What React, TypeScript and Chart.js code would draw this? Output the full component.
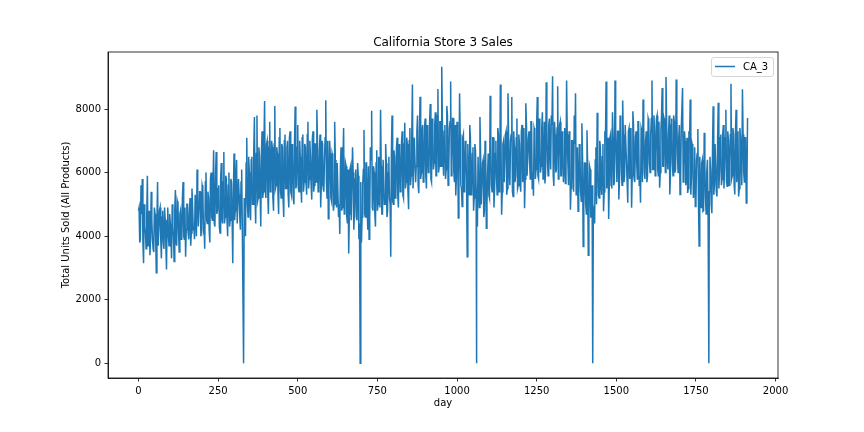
import React, { useRef, useEffect } from "react";
import { Chart, registerables } from "chart.js";

Chart.register(...registerables);

// daily units, read every 2 days: unitsPart* hold days 0, 4, 8, ...
// and midPart* hold the days in between (2, 6, 10, ...)
const STEP = 4;

// days 0 - 396
const unitsPart1 = [
  4800, 3800, 5600, 5800, 3150, 4300, 3600, 5900, 4100, 3400, 5400, 3900, 3500, 4700, 2850, 5700, 3700, 4900, 3300, 4800, 3600, 4500, 2950, 4900, 3700,
  4400, 3300, 4300, 3200, 5450, 3700, 5000, 3500, 4800, 4000, 5700, 3900, 3350, 5000, 4100, 4800, 3700, 5500, 4200, 3900, 5300, 6100, 4300, 5400, 4000,
  5600, 4200, 3600, 6000, 4400, 5200, 3800, 6000, 4500, 6700, 4300, 6650, 4800, 5600, 4100, 6300, 4400, 6650, 4600, 5800, 4000, 6000, 4500, 5700, 3150,
  6600, 4800, 6400, 4400, 5300, 4200, 6100, 4300, 5200, 4000, 7100, 4600, 6000, 4500, 6500, 5000, 7750, 4400, 7800, 5200, 6500, 4300, 7300, 5400, 8250,
];
// days 2 - 398
const midPart1 = [
  4900, 3900, 4700, 3800, 5000, 4100, 4600, 3700, 4800, 3900, 4500, 3600, 4900, 4000, 4400, 3700, 4800, 3900, 4600, 3800, 4900, 3700, 4500, 4000, 4700,
  3900, 5000, 4000, 4800, 3800, 5100, 4100, 4700, 3900, 5200, 4000, 4900, 4200, 5000, 3900, 5200, 4100, 4900, 4300, 5300, 4000, 5100, 4300, 5400, 4200,
  5500, 4300, 5700, 4500, 5400, 4200, 5800, 4600, 5600, 4400, 5900, 4700, 5500, 4300, 5800, 4600, 5700, 4400, 5900, 4500, 5600, 4300, 5800, 4600, 5400,
  4500, 5900, 4400, 5800, 4600, 5700, 4300, 0, 4900, 6300, 5000, 6500, 5200, 6400, 5000, 6700, 5300, 6600, 5100, 6800, 5400, 6600, 5200, 6900, 5500,
];

// days 400 - 796
const unitsPart2 = [
  5200, 7000, 4700, 7600, 5500, 6800, 4800, 8100, 5600, 6600, 4700, 7400, 5200, 6800, 4600, 7200, 5500, 7000, 4900, 7300, 5300, 6500, 5000, 8080, 5600,
  7500, 5400, 6500, 5050, 7200, 5700, 6800, 5300, 7600, 5800, 6500, 5150, 7300, 5600, 6900, 7980, 5400, 6700, 4900, 7000, 5500, 6400, 8280, 5200, 4550,
  7000, 5200, 6600, 4800, 7600, 5100, 6300, 4600, 4070, 6800, 4900, 7400, 5000, 6200, 4400, 3450, 6100, 4500, 6800, 4200, 5800, 4600, 6300, 3900, 0,
  3800, 5600, 7340, 4600, 6300, 4200, 3900, 6800, 7950, 4800, 6000, 4300, 6700, 5000, 6200, 7980, 4700, 6400, 5000, 6900, 4600, 6000, 5200, 3350, 7800,
];
// days 402 - 798
const midPart2 = [
  6900, 5300, 6800, 5400, 7000, 5200, 6900, 5500, 6800, 5300, 7100, 5400, 6900, 5200, 7000, 5500, 6800, 5300, 7100, 5400, 6900, 5200, 7000, 5500, 6800,
  5500, 7000, 5600, 7100, 5400, 6900, 5700, 7200, 5500, 7000, 5600, 7100, 5400, 6900, 5700, 7000, 5500, 7200, 5600, 6900, 5400, 7100, 5700, 7000, 5500,
  6600, 5100, 6500, 5000, 6400, 4900, 6300, 5000, 6200, 4800, 6400, 4700, 6300, 4600, 6100, 4700, 6200, 4500, 6000, 4700, 6100, 4500, 5900, 4400, 5700,
  4600, 6100, 4700, 6300, 4800, 6200, 4600, 6400, 4900, 6200, 4700, 6300, 4800, 6500, 4900, 6200, 4700, 6400, 5000, 6300, 4800, 6500, 5000, 6600, 5100,
];

// days 800 - 1196
const unitsPart3 = [
  5000, 6500, 5300, 7100, 4900, 6700, 5600, 7300, 5200, 7570, 5700, 6900, 4850, 7400, 5900, 8770, 5500, 7100, 6200, 7800, 5350, 8390, 6000, 7500, 5800,
  7700, 5500, 6800, 6100, 8160, 5700, 7400, 6300, 7900, 5900, 8630, 6200, 7600, 9330, 6400, 7300, 5800, 8100, 5600, 7400, 8870, 6300, 7700, 5700, 5280,
  7600, 4570, 8500, 5600, 4930, 7200, 5800, 6700, 3350, 6200, 7500, 5300, 6600, 4800, 6900, 5500, 4300, 6500, 7750, 5000, 6300, 4600, 7000, 4250, 6000,
  5300, 8420, 5600, 7100, 4900, 6600, 5800, 7400, 5400, 8770, 4670, 6900, 5700, 7200, 5300, 8500, 6000, 7000, 8380, 5250, 6800, 5900, 7700, 5600, 6900,
];
// days 802 - 1198
const midPart3 = [
  6700, 5200, 6800, 5300, 6900, 5400, 7000, 5300, 6900, 5500, 7100, 5400, 7000, 5600, 7200, 5500, 7100, 5700, 7300, 5600, 7200, 5800, 7300, 5700, 7400,
  5900, 7500, 6000, 7600, 5800, 7700, 6100, 7500, 5900, 7800, 6000, 7600, 6200, 7700, 5900, 7500, 6100, 7800, 6000, 7600, 5900, 7700, 6000, 7500, 5800,
  7300, 5600, 7200, 5500, 7100, 5400, 7000, 5600, 6900, 5300, 7100, 5400, 6800, 5200, 6700, 5000, 6500, 4900, 6600, 5000, 6400, 4800, 6500, 5000, 6600,
  5200, 6900, 5400, 7100, 5500, 7000, 5300, 7200, 5600, 7100, 5400, 7000, 5700, 7300, 5500, 7100, 5600, 7200, 5400, 7300, 5700, 7100, 5500, 7200, 5600,
];

// days 1200 - 1596
const unitsPart4 = [
  5400, 7500, 6000, 4880, 8180, 5900, 7100, 6300, 7600, 5500, 5270, 7300, 6100, 8380, 5800, 7200, 6200, 7900, 5900, 5660, 8840, 6300, 7500, 6600, 7800,
  9030, 5580, 7200, 6100, 8720, 6400, 7600, 5900, 7100, 6200, 5660, 8900, 6300, 7300, 4830, 7000, 6100, 7800, 8500, 5600, 4780, 6900, 5400, 7550, 3670,
  6300, 5000, 7330, 3400, 6200, 4600, 5600, 4900, 4400, 6800, 7880, 5300, 7000, 5600, 6500, 4780, 7300, 8870, 5900, 4540, 7100, 6200, 7900, 5600, 8900,
  6400, 7300, 5150, 7800, 6000, 8270, 5700, 7500, 6300, 5050, 7400, 6100, 4890, 7930, 5800, 7100, 6300, 7600, 5600, 5050, 7300, 8300, 6000, 7000, 5700,
];
// days 1202 - 1598
const midPart4 = [
  7300, 5700, 7400, 5800, 7500, 5900, 7300, 5800, 7600, 6000, 7400, 5800, 7500, 5900, 7700, 6000, 7400, 5800, 7600, 6000, 7500, 5900, 7700, 6100, 7500,
  5900, 7600, 6000, 7400, 5800, 7500, 5900, 7300, 5700, 7400, 5800, 7200, 5600, 7100, 5500, 7000, 5400, 6900, 5300, 6800, 5200, 6600, 5100, 6500, 4900,
  6300, 4700, 6200, 4500, 6100, 4600, 0, 4800, 6400, 5000, 6600, 5200, 6800, 5300, 6900, 5400, 7000, 5500, 7100, 5600, 7200, 5500, 7100, 5700, 7300,
  5700, 7300, 5800, 7400, 5600, 7200, 5900, 7500, 5700, 7300, 5800, 7400, 5900, 7500, 5700, 7300, 5800, 7600, 5900, 7400, 5700, 7500, 5800, 7300, 5900,
];

// days 1600 - 1912
const unitsPart5 = [
  7700, 6300, 7200, 8900, 6100, 7400, 6500, 7800, 5900, 5520, 7300, 8660, 6200, 7600, 9010, 6400, 7200, 5310, 7500, 6300, 7800, 6000, 8930, 6500, 7100,
  5310, 7400, 8660, 6200, 7000, 5800, 5360, 7300, 8300, 5900, 6800, 5500, 4930, 6400, 7370, 3690, 5600, 6300, 4780, 7250, 5200, 6000, 4900, 5400, 6100,
  4720, 8090, 5600, 6900, 5250, 8200, 6000, 7200, 5800, 7500, 6200, 7980, 5570, 7000, 6300, 8800, 5900, 7200, 5310, 7980, 6100, 5250, 7400, 6300, 8620,
  6000, 7100, 5040, 7720,
];
// days 1602 - 1910
const midPart5 = [
  7600, 6000, 7700, 6100, 7800, 5900, 7700, 6100, 7600, 6000, 7800, 6200, 7700, 6000, 7600, 6100, 7800, 6000, 7700, 5900, 7600, 6100, 7800, 6000, 7500,
  5900, 7400, 5700, 7300, 5600, 7100, 5500, 7000, 5300, 6900, 5200, 6800, 5100, 6600, 5000, 6500, 4900, 6400, 4800, 6300, 4700, 6400, 4900, 6500, 5000,
  6700, 5300, 6900, 5400, 7000, 5500, 7100, 5600, 7200, 5500, 7100, 5700, 7300, 5600, 7200, 5800, 7400, 5600, 7200, 5700, 7300, 5500, 7100, 5600, 7200,
  5700, 7100, 5500,
];

// store closed on Christmas day
const closedDays = [330, 696, 1061, 1426, 1791];
const closedUnits = [0, 0, 0, 0, 0];

const xTicks = [0, 250, 500, 750, 1000, 1250, 1500, 1750, 2000];
const yTicks = [0, 2000, 4000, 6000, 8000];

const FONT = "'DejaVu Sans', sans-serif";
const LINE_COLOR = "#1f77b4";

const buildPoints = () => {
  const units = [...unitsPart1, ...unitsPart2, ...unitsPart3, ...unitsPart4, ...unitsPart5];
  const mids = [...midPart1, ...midPart2, ...midPart3, ...midPart4, ...midPart5];
  const pts: { x: number; y: number }[] = [];
  units.forEach((v, i) => pts.push({ x: i * STEP, y: v }));
  mids.forEach((v, i) => pts.push({ x: i * STEP + STEP / 2, y: v }));
  const kept = pts.filter((p) => !closedDays.includes(p.x));
  closedDays.forEach((d, i) => kept.push({ x: d, y: closedUnits[i] }));
  return kept.sort((a, b) => a.x - b.x);
};

// title, axis labels, top/right spines and legend, drawn like matplotlib
const decorations = {
  id: "decorations",
  afterDraw(chart: any) {
    const { ctx, chartArea } = chart;
    const { left, right, top, bottom } = chartArea;
    const cx = (left + right) / 2;
    ctx.save();
    ctx.strokeStyle = "#000";
    ctx.lineWidth = 0.8;
    ctx.strokeRect(left, top, right - left, bottom - top);

    ctx.fillStyle = "#000";
    ctx.textAlign = "center";
    ctx.font = `12px ${FONT}`;
    ctx.textBaseline = "alphabetic";
    ctx.fillText("California Store 3 Sales", cx, top - 6);

    ctx.font = `10px ${FONT}`;
    ctx.textBaseline = "top";
    ctx.fillText("day", cx, 398);

    ctx.save();
    ctx.translate(66, (top + bottom) / 2);
    ctx.rotate(-Math.PI / 2);
    ctx.textBaseline = "middle";
    ctx.fillText("Total Units Sold (All Products)", 0, 0);
    ctx.restore();

    // legend
    const bx = 711.5, by = 57.5, bw = 62, bh = 19;
    ctx.beginPath();
    ctx.roundRect(bx, by, bw, bh, 2.5);
    ctx.fillStyle = "rgba(255,255,255,0.8)";
    ctx.fill();
    ctx.strokeStyle = "#d6d6d6";
    ctx.lineWidth = 1;
    ctx.stroke();
    ctx.beginPath();
    ctx.moveTo(715, 66.5);
    ctx.lineTo(735, 66.5);
    ctx.strokeStyle = LINE_COLOR;
    ctx.lineWidth = 1.5;
    ctx.stroke();
    ctx.fillStyle = "#000";
    ctx.textAlign = "left";
    ctx.textBaseline = "middle";
    ctx.font = `10px ${FONT}`;
    ctx.fillText("CA_3", 743, 67);
    ctx.restore();
  },
};

const CA3SalesChart: React.FC = () => {
  const chartRef = useRef<HTMLCanvasElement | null>(null);

  useEffect(() => {
    if (!chartRef.current) return;
    const ctx = chartRef.current.getContext("2d");
    if (!ctx) return;

    const chartInstance = new Chart(ctx, {
      type: "line",
      data: {
        datasets: [
          {
            label: "CA_3",
            data: buildPoints(),
            borderColor: LINE_COLOR,
            borderWidth: 1.5,
            pointRadius: 0,
            tension: 0,
            fill: false,
          },
        ],
      },
      options: {
        animation: false,
        responsive: true,
        maintainAspectRatio: false,
        layout: { padding: { top: 52, right: 86, left: 0, bottom: 0 } },
        plugins: {
          legend: { display: false },
          tooltip: { enabled: false },
          title: { display: false },
        },
        scales: {
          x: {
            type: "linear",
            min: -95.6,
            max: 2007.6,
            afterBuildTicks: (scale: any) => {
              scale.ticks = xTicks.map((v) => ({ value: v }));
            },
            afterFit: (scale: any) => {
              scale.height = 54;
            },
            ticks: {
              color: "#000",
              padding: 3.5,
              maxRotation: 0,
              autoSkip: false,
              callback: (value: any) => String(value),
              font: { size: 10, family: FONT },
            },
            grid: {
              drawOnChartArea: false,
              tickLength: 3.5,
              color: "#000",
              lineWidth: 0.8,
            },
            border: { display: true, color: "#000", width: 0.8 },
          },
          y: {
            type: "linear",
            min: -466,
            max: 9796,
            afterBuildTicks: (scale: any) => {
              scale.ticks = yTicks.map((v) => ({ value: v }));
            },
            afterFit: (scale: any) => {
              scale.width = 108;
            },
            ticks: {
              color: "#000",
              padding: 3.5,
              autoSkip: false,
              callback: (value: any) => String(value),
              font: { size: 10, family: FONT },
            },
            grid: {
              drawOnChartArea: false,
              tickLength: 3.5,
              color: "#000",
              lineWidth: 0.8,
            },
            border: { display: true, color: "#000", width: 0.8 },
          },
        },
      },
      plugins: [decorations],
    });

    return () => {
      chartInstance.destroy();
    };
  }, []);

  return (
    <div
      style={{
        position: "fixed",
        left: 0,
        top: 0,
        width: 864,
        height: 432,
        background: "#fff",
      }}
    >
      <canvas ref={chartRef} />
    </div>
  );
};

export default CA3SalesChart;
